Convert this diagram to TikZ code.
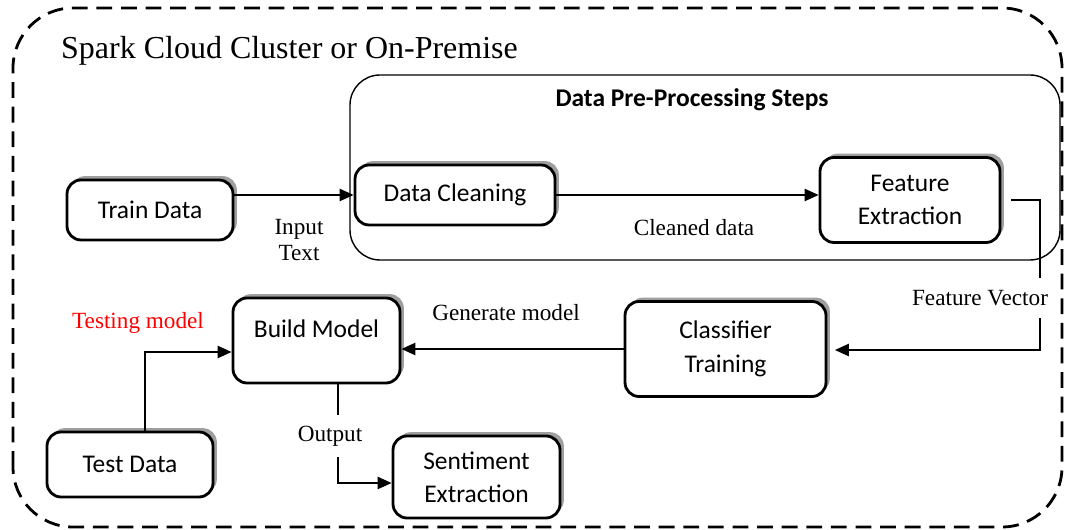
\documentclass[tikz,border=0pt]{standalone}
\usepackage{fontspec}
\setmainfont{Liberation Serif}
\newfontfamily\boxfont{Carlito}
\usetikzlibrary{arrows.meta,shadows}

\begin{document}
\begin{tikzpicture}[
    stepbox/.style={draw, line width=1.6pt, rounded corners=8pt, fill=white, align=center,
      font=\boxfont\fontsize{14.5}{19}\selectfont,
      drop shadow={shadow xshift=2.2pt, shadow yshift=2.2pt, fill=gray!75, opacity=1}},
    arr/.style={line width=1pt, -{Triangle[length=8pt,width=7pt]}},
    lbl/.style={font=\fontsize{13.2}{14.5}\selectfont, align=center}
  ]
  \useasboundingbox (0,0) rectangle (21.34,10.6);

  % cluster and pre-processing frames
  \draw [line width=1.6pt, dash pattern=on 9pt off 5pt, rounded corners=1.2cm] (0.26,0.06) rectangle (21.24,10.44);
  \node [anchor=west, font=\fontsize{18.2}{21}\selectfont] (spark) at (1.1,9.58) {Spark Cloud Cluster or On-Premise};
  \draw [line width=0.8pt, rounded corners=0.6cm] (7.0,5.4) rectangle (21.2,9.1);
  \node [font=\boxfont\bfseries\fontsize{14.5}{16}\selectfont] (steps) at (13.84,8.6) {Data Pre-Processing Steps};

  % boxes
  \node [stepbox, minimum width=3.32cm, minimum height=1.2cm] (train) at (3.0,6.4) {Train Data};
  \node [stepbox, minimum width=4.0cm, minimum height=1.2cm] (clean) at (9.1,6.7) {Data Cleaning};
  \node [stepbox, minimum width=3.6cm, minimum height=1.7cm] (feat) at (18.2,6.6) {Feature\\Extraction};
  \node [stepbox, minimum width=4.02cm, minimum height=1.9cm] (classif) at (14.51,3.62) {Classifier\\Training};
  \node [stepbox, minimum width=3.34cm, minimum height=1.7cm, text height=0.35cm, text depth=0.45cm] (build) at (6.33,3.79) {Build Model};
  \node [stepbox, minimum width=3.32cm, minimum height=1.3cm] (test) at (2.6,1.31) {Test Data};
  \node [stepbox, minimum width=3.34cm, minimum height=1.64cm] (senti) at (9.53,1.06) {Sentiment\\Extraction};

  % connectors
  \draw [arr] (train.east |- clean.west) -- (clean.west);
  \draw [arr] (clean.east) -- (feat.west |- clean.east);
  \draw [arr] ([xshift=0.2cm]feat.east) -| (20.8,3.6) -- ([xshift=0.15cm]classif.east |- 0,3.6);
  \draw [arr] (classif.west) -- (build.east |- classif.west);
  \draw [arr] ([xshift=0.3cm]test.north) |- ([yshift=-0.23cm]build.west);
  \draw [arr] ([xshift=0.43cm]build.south) |- ([yshift=-0.12cm]senti.west);

  % labels
  \node [lbl] (input) at (5.98,5.8) {Input\\Text};
  \node [lbl] (cleaned) at (13.88,6.04) {Cleaned data};
  \node [lbl, fill=white, inner ysep=7pt] (fvec) at (19.6,4.64) {Feature Vector};
  \node [lbl] (gen) at (10.12,4.34) {Generate model};
  \node [lbl, text=red] (testing) at (2.76,4.14) {Testing model};
  \node [lbl, fill=white, inner ysep=6pt] (output) at (6.6,1.88) {Output};
\end{tikzpicture}
\end{document}
